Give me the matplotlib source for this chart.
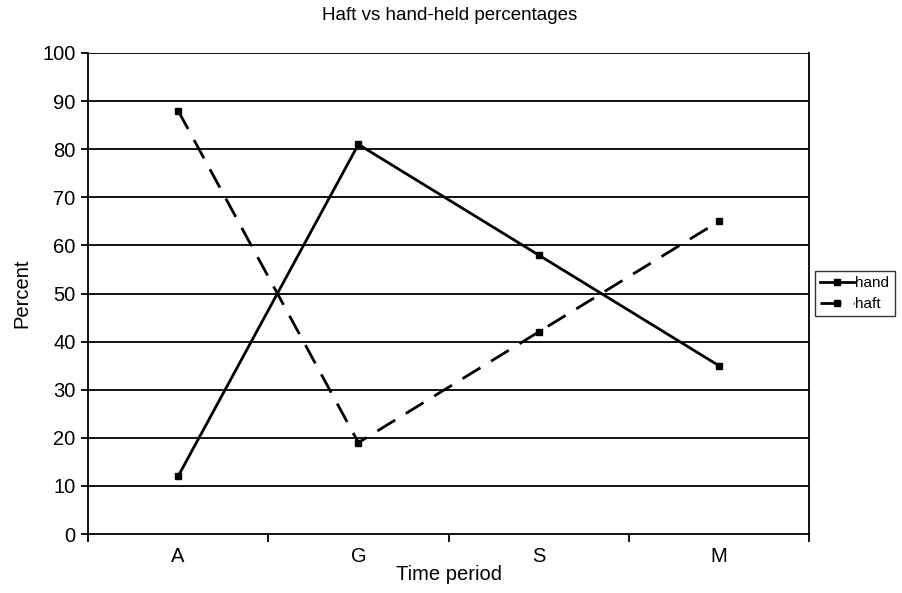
import matplotlib
matplotlib.use("Agg")
import matplotlib.pyplot as plt
import numpy as np

plt.rcParams['font.family'] = ['Liberation Sans', 'DejaVu Sans']

categories = ["A", "G", "S", "M"]
hand = [12, 81, 58, 35]
haft = [88, 19, 42, 65]

fig = plt.figure(figsize=(9.02, 5.93), dpi=100)
ax = fig.add_axes([88/902, 59/593, (809-88)/902, (534-53)/593])

x = np.arange(len(categories))
ax.plot(x, hand, color='black', lw=2, marker='s', ms=5, label='hand')
ax.plot(x, haft, color='black', lw=2, marker='s', ms=5, dashes=(7.5, 4.5), label='haft')

ax.set_xlim(-0.5, len(categories) - 0.5)
ax.set_ylim(0, 100)
ax.set_yticks(range(0, 101, 10))
for y in range(10, 101, 10):
    ax.axhline(y, color='black', lw=1.3, zorder=0)

ax.set_xticks(x)
ax.set_xticklabels(categories)
ax.set_xticks(np.arange(-0.5, len(categories), 1), minor=True)
ax.tick_params(axis='x', which='major', length=0, pad=9, labelsize=14.5)
ax.tick_params(axis='x', which='minor', length=6, width=1.3, direction='out')
ax.tick_params(axis='y', length=5, width=1.3, labelsize=14.5, pad=4)

for s in ['left', 'bottom', 'right']:
    ax.spines[s].set_linewidth(1.3)
ax.spines['top'].set_visible(False)

ax.set_xlabel("Time period", fontsize=14.5, labelpad=0)
ax.set_ylabel("Percent", fontsize=14.5, labelpad=8)
fig.text(450/902, 1 - 15/593, "Haft vs hand-held percentages", ha='center', va='center', fontsize=13.5)

leg = ax.legend(loc='center left', bbox_to_anchor=(1.008, 0.5), frameon=True, fancybox=False,
                edgecolor='black', fontsize=11, handlelength=2.2, handletextpad=0.1,
                borderpad=0.35, labelspacing=0.45, borderaxespad=0)
leg.get_frame().set_linewidth(1.0)

fig.savefig("out.png", dpi=100)
